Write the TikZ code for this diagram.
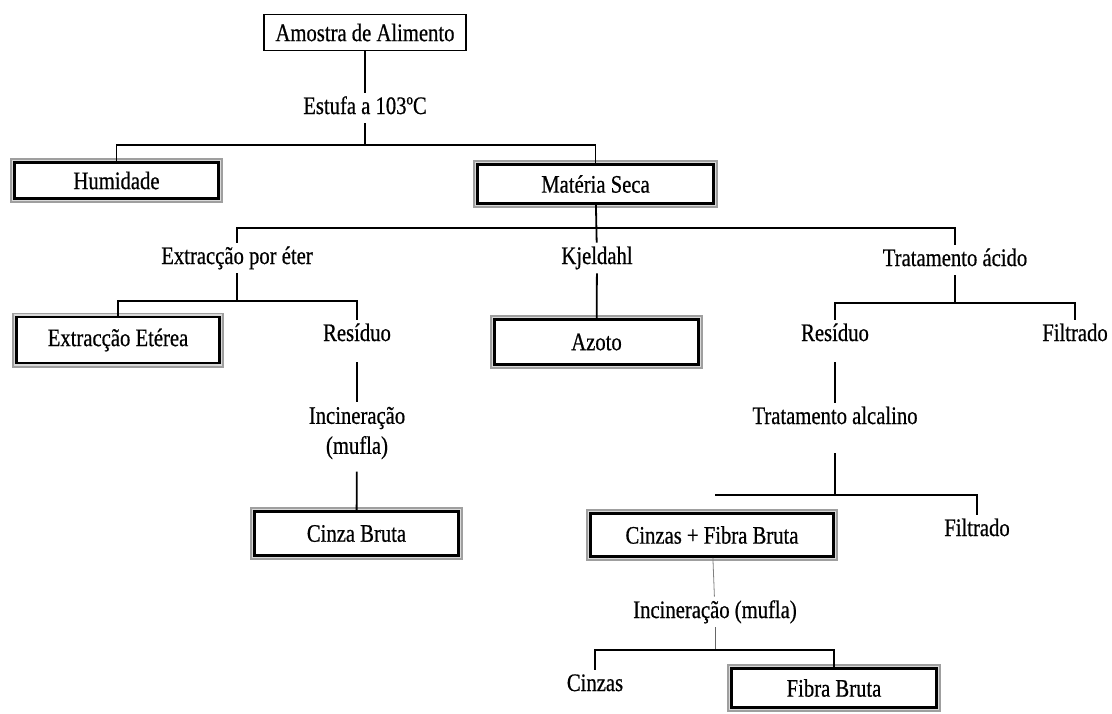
\documentclass[tikz,border=0pt]{standalone}
\usepackage{fontspec}
\setmainfont{Liberation Serif}[FakeStretch=0.82,FakeBold=0.6]
\tikzset{
  lbl/.style={inner sep=2pt, text height=8.5pt, text depth=2.5pt},
  plainbox/.style={draw, line width=0.8pt, inner sep=0pt},
  dblbox/.style={preaction={draw=gray!75, line width=4.5pt},
                 preaction={draw=gray!30, line width=2.8pt},
                 fill=white, draw=black, line width=1.4pt, inner sep=0pt},
  link/.style={line width=0.9pt}
}
\begin{document}
\begin{tikzpicture}[x=0.5pt,y=-0.5pt,font=\fontsize{12.6}{15}\selectfont]
    \useasboundingbox (0,0) rectangle (1112,713);
    % boxes
    \node[plainbox,minimum width=101pt,minimum height=18pt] (amostra) at (365,32.5) {Amostra de Alimento};
    \node[dblbox,minimum width=102pt,minimum height=18pt] (humidade) at (116.5,180.5) {Humidade};
    \node[dblbox,minimum width=118pt,minimum height=19.5pt] (materia) at (595.5,184) {Matéria Seca};
    \node[dblbox,minimum width=101.5pt,minimum height=23pt] (etbox) at (118,340) {Extracção Etérea};
    \node[dblbox,minimum width=102pt,minimum height=22.5pt] (azoto) at (596.5,342) {Azoto};
    \node[dblbox,minimum width=102pt,minimum height=22pt] (cbruta) at (356.5,533.5) {Cinza Bruta};
    \node[dblbox,minimum width=121.5pt,minimum height=21.5pt] (cfbox) at (712,535) {Cinzas + Fibra Bruta};
    \node[dblbox,minimum width=102.5pt,minimum height=19.5pt] (fbbox) at (834,688) {Fibra Bruta};
    % labels
    \node[lbl] (estufa) at (365,108) {Estufa a 103ºC};
    \node[lbl] (eter) at (237,258) {Extracção por éter};
    \node[lbl] (kjeldahl) at (597,258) {Kjeldahl};
    \node[lbl] (tacido) at (955,260) {Tratamento ácido};
    \node[lbl] (res1) at (357,335) {Resíduo};
    \node[lbl] (res2) at (835,335) {Resíduo};
    \node[lbl] (filt1) at (1075,335) {Filtrado};
    \node[inner sep=2pt,align=center] (incin1) at (357,433) {Incineração\\(mufla)};
    \node[lbl] (talc) at (835,418) {Tratamento alcalino};
    \node[lbl] (filt2) at (977,530) {Filtrado};
    \node[lbl] (incin2) at (715,612) {Incineração (mufla)};
    \node[lbl] (cinzas) at (595,685) {Cinzas};
    % junctions
    \coordinate (j1) at (365,145);
    \coordinate (j2) at (597,228);
    \coordinate (j3) at (955,303);
    \coordinate (j4) at (237,301);
    \coordinate (j5) at (835,495);
    \coordinate (j6) at (715,495);
    \coordinate (j7) at (715,650);
    % connectors
    \draw[link] (amostra) -- (estufa);
    \draw[link] (estufa) -- (j1);
    \draw[link] (humidade.north) |- (j1) -| (materia.north);
    \draw[link] (materia) -- (kjeldahl);
    \draw[link] (eter.north) |- (j2) -| (tacido.north);
    \draw[link] (kjeldahl) -- (azoto);
    \draw[link] (eter) -- (j4);
    \draw[link] (etbox.north) |- (j4) -| (res1.north);
    \draw[link] (tacido) -- (j3);
    \draw[link] (res2.north) |- (j3) -| (filt1.north);
    \draw[link,shorten <=6pt] (res1) -- (incin1);
    \draw[link,shorten <=4pt] (incin1) -- (cbruta);
    \draw[link,shorten <=6pt] (res2) -- (talc);
    \draw[link,shorten <=10pt] (talc) -- (j5);
    \draw[link] (j6) -- (j5) -| (filt2.north);
    \draw[line width=0.4pt,gray] (cfbox) -- (incin2);
    \draw[line width=0.5pt,gray!80!black] (incin2) -- (j7);
    \draw[link] (cinzas.north) |- (j7) -| (fbbox.north);
\end{tikzpicture}
\end{document}
